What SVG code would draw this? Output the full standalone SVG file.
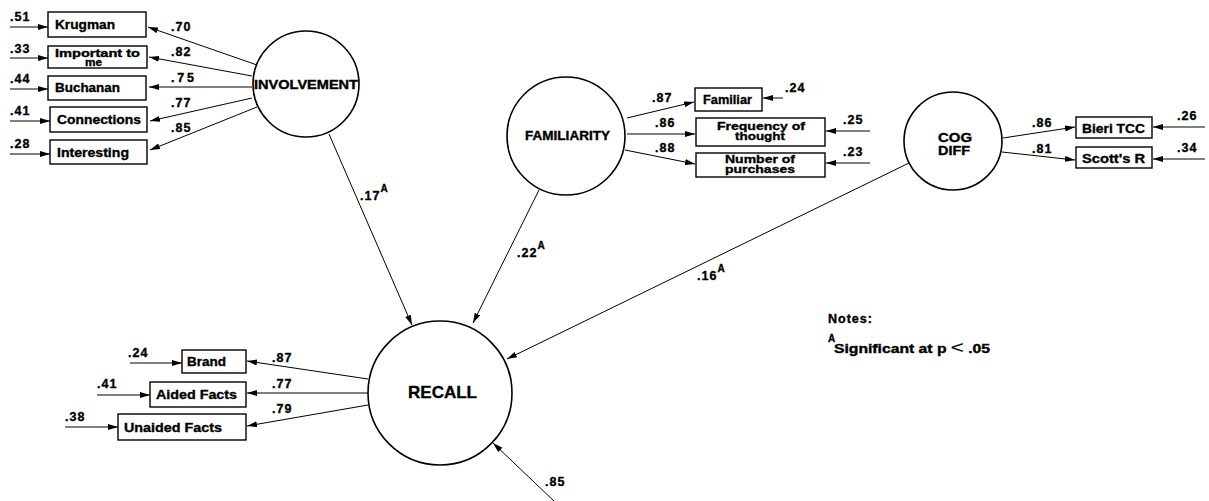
<svg xmlns="http://www.w3.org/2000/svg" width="1209" height="501" viewBox="0 0 1209 501">
  <defs>
    <marker id="ah" viewBox="0 0 10 6" refX="10" refY="3" markerWidth="10" markerHeight="6" orient="auto" markerUnits="userSpaceOnUse">
      <path d="M0,0 L10,3 L0,6 z" fill="#000"/>
    </marker>
    <style>
      text { font-family: "Liberation Sans", Arial, sans-serif; font-weight: bold; fill: #000; stroke: #000; stroke-width: 0.35px; }
      .lat { fill: #fff; stroke: #000; stroke-width: 1.6; }
      .box { fill: #fff; stroke: #000; stroke-width: 1.4; }
      .bl { font-size: 13px; }
      .nm { font-size: 12px; }
      .sm { font-size: 11.5px; }
      .xs { font-size: 10px; }
      .lb { font-size: 12.5px; letter-spacing: 1px; }
      .sup { font-size: 10px; letter-spacing: 0; }
      .c { stroke: #000; stroke-width: 1; fill: none; marker-end: url(#ah); }
    </style>
  </defs>
  <rect width="1209" height="501" fill="#fff"/>

  <!-- connectors -->
  <g id="connectors">
    <!-- involvement indicators -->
    <line class="c" x1="257" y1="65" x2="148" y2="27"/>
    <line class="c" x1="252" y1="76" x2="149" y2="57"/>
    <line class="c" x1="252" y1="87" x2="149" y2="87"/>
    <line class="c" x1="252" y1="98" x2="150" y2="121"/>
    <line class="c" x1="257" y1="107" x2="150" y2="150"/>
    <!-- involvement error terms -->
    <line class="c" x1="10" y1="27" x2="48" y2="27"/>
    <line class="c" x1="10" y1="58" x2="48" y2="58"/>
    <line class="c" x1="10" y1="89" x2="48" y2="89"/>
    <line class="c" x1="10" y1="121" x2="50" y2="121"/>
    <line class="c" x1="10" y1="154" x2="50" y2="154"/>
    <!-- familiarity indicators -->
    <line class="c" x1="627" y1="118" x2="694" y2="102"/>
    <line class="c" x1="627" y1="134" x2="695" y2="134"/>
    <line class="c" x1="625" y1="150" x2="695" y2="164"/>
    <line class="c" x1="783" y1="98" x2="763" y2="98"/>
    <line class="c" x1="870" y1="131" x2="826" y2="131"/>
    <line class="c" x1="870" y1="163" x2="826" y2="163"/>
    <!-- cog diff indicators -->
    <line class="c" x1="1003" y1="138" x2="1075" y2="127"/>
    <line class="c" x1="1002" y1="152" x2="1075" y2="160"/>
    <line class="c" x1="1205" y1="127" x2="1153" y2="127"/>
    <line class="c" x1="1205" y1="159" x2="1153" y2="159"/>
    <!-- structural paths -->
    <line class="c" x1="329" y1="134" x2="412" y2="325"/>
    <line class="c" x1="539" y1="190" x2="473" y2="323"/>
    <line class="c" x1="909" y1="163" x2="507" y2="359"/>
    <line class="c" x1="555" y1="502" x2="493" y2="443"/>
    <!-- recall indicators -->
    <line class="c" x1="368" y1="379" x2="247" y2="361"/>
    <line class="c" x1="368" y1="393" x2="247" y2="393"/>
    <line class="c" x1="368" y1="405" x2="247" y2="426"/>
    <line class="c" x1="130" y1="363" x2="182" y2="363"/>
    <line class="c" x1="97" y1="395" x2="150" y2="395"/>
    <line class="c" x1="65" y1="427" x2="118" y2="427"/>
  </g>

  <!-- path coefficients -->
  <g id="coefficients">
    <text class="lb" x="171" y="31">.70</text>
    <text class="lb" x="171" y="56">.82</text>
    <text class="lb" x="171" y="82" textLength="24">.75</text>
    <text class="lb" x="171" y="107">.77</text>
    <text class="lb" x="171" y="132">.85</text>
    <text class="lb" x="10" y="21">.51</text>
    <text class="lb" x="10" y="53">.33</text>
    <text class="lb" x="10" y="83">.44</text>
    <text class="lb" x="10" y="115">.41</text>
    <text class="lb" x="10" y="148">.28</text>

    <text class="lb" x="652" y="102">.87</text>
    <text class="lb" x="655" y="127">.86</text>
    <text class="lb" x="655" y="152">.88</text>
    <text class="lb" x="785" y="92">.24</text>
    <text class="lb" x="843" y="124">.25</text>
    <text class="lb" x="843" y="156">.23</text>

    <text class="lb" x="1032" y="127">.86</text>
    <text class="lb" x="1032" y="153">.81</text>
    <text class="lb" x="1177" y="120">.26</text>
    <text class="lb" x="1177" y="152">.34</text>

    <text class="lb" x="360" y="200">.17<tspan class="sup" dy="-8">A</tspan></text>
    <text class="lb" x="517" y="257">.22<tspan class="sup" dy="-8">A</tspan></text>
    <text class="lb" x="697" y="280">.16<tspan class="sup" dy="-8">A</tspan></text>
    <text class="lb" x="545" y="486">.85</text>

    <text class="lb" x="272" y="362">.87</text>
    <text class="lb" x="272" y="388">.77</text>
    <text class="lb" x="272" y="413">.79</text>
    <text class="lb" x="128" y="357">.24</text>
    <text class="lb" x="97" y="388">.41</text>
    <text class="lb" x="65" y="421">.38</text>
  </g>

  <!-- latent constructs -->
  <g id="involvement">
    <circle class="lat" cx="306" cy="84" r="53"/>
    <text class="nm" x="254" y="89" textLength="104" lengthAdjust="spacingAndGlyphs">INVOLVEMENT</text>
  </g>
  <g id="familiarity">
    <circle class="lat" cx="566" cy="136" r="59"/>
    <text class="nm" x="525" y="140" textLength="85" lengthAdjust="spacingAndGlyphs">FAMILIARITY</text>
  </g>
  <g id="cogdiff">
    <circle class="lat" cx="953" cy="141" r="49"/>
    <text class="nm" x="938" y="142" textLength="34" lengthAdjust="spacingAndGlyphs">COG</text>
    <text class="nm" x="938" y="155" textLength="32" lengthAdjust="spacingAndGlyphs">DIFF</text>
  </g>
  <g id="recall">
    <circle class="lat" cx="440" cy="393" r="72"/>
    <text x="408" y="398" style="font-size:17px" textLength="69" lengthAdjust="spacingAndGlyphs">RECALL</text>
  </g>

  <!-- involvement indicators -->
  <g id="krugman">
    <rect class="box" x="48" y="12" width="98" height="25"/>
    <text class="bl" x="55" y="29" textLength="60" lengthAdjust="spacingAndGlyphs">Krugman</text>
  </g>
  <g id="important">
    <rect class="box" x="48" y="46" width="99" height="22"/>
    <text class="xs" x="55" y="56.5" textLength="85" lengthAdjust="spacingAndGlyphs">Important to</text>
    <text class="xs" x="85" y="65.5" textLength="17" lengthAdjust="spacingAndGlyphs">me</text>
  </g>
  <g id="buchanan">
    <rect class="box" x="48" y="76" width="98" height="24"/>
    <text class="bl" x="55" y="92" textLength="65" lengthAdjust="spacingAndGlyphs">Buchanan</text>
  </g>
  <g id="connections">
    <rect class="box" x="50" y="107" width="97" height="25"/>
    <text class="bl" x="57" y="124" textLength="84" lengthAdjust="spacingAndGlyphs">Connections</text>
  </g>
  <g id="interesting">
    <rect class="box" x="50" y="140" width="97" height="24"/>
    <text class="bl" x="57" y="157" textLength="72" lengthAdjust="spacingAndGlyphs">Interesting</text>
  </g>

  <!-- familiarity indicators -->
  <g id="familiar">
    <rect class="box" x="695" y="88" width="67" height="23"/>
    <text class="bl" x="703" y="104" textLength="49" lengthAdjust="spacingAndGlyphs">Familiar</text>
  </g>
  <g id="frequency">
    <rect class="box" x="696" y="118" width="129" height="28"/>
    <text class="sm" x="717" y="130" textLength="88" lengthAdjust="spacingAndGlyphs">Frequency of</text>
    <text class="sm" x="735" y="140" textLength="50" lengthAdjust="spacingAndGlyphs">thought</text>
  </g>
  <g id="purchases">
    <rect class="box" x="696" y="153" width="129" height="24"/>
    <text class="sm" x="725" y="163" textLength="70" lengthAdjust="spacingAndGlyphs">Number of</text>
    <text class="sm" x="725" y="173" textLength="70" lengthAdjust="spacingAndGlyphs">purchases</text>
  </g>

  <!-- cog diff indicators -->
  <g id="bieri">
    <rect class="box" x="1076" y="117" width="76" height="21"/>
    <text class="bl" x="1082" y="133" textLength="63" lengthAdjust="spacingAndGlyphs">Bieri TCC</text>
  </g>
  <g id="scott">
    <rect class="box" x="1076" y="147" width="76" height="21"/>
    <text class="bl" x="1082" y="163" textLength="63" lengthAdjust="spacingAndGlyphs">Scott's R</text>
  </g>

  <!-- recall indicators -->
  <g id="brand">
    <rect class="box" x="182" y="350" width="64" height="23"/>
    <text class="bl" x="187" y="366" textLength="39" lengthAdjust="spacingAndGlyphs">Brand</text>
  </g>
  <g id="aided">
    <rect class="box" x="150" y="382" width="96" height="25"/>
    <text class="bl" x="156" y="399" textLength="81" lengthAdjust="spacingAndGlyphs">Aided Facts</text>
  </g>
  <g id="unaided">
    <rect class="box" x="118" y="414" width="128" height="26"/>
    <text class="bl" x="124" y="432" textLength="98" lengthAdjust="spacingAndGlyphs">Unaided Facts</text>
  </g>

  <!-- notes -->
  <g id="notes">
    <text class="lb" x="828" y="323">Notes:</text>
    <text class="sup" x="828" y="342">A</text>
    <text class="nm" x="834" y="353" textLength="156" lengthAdjust="spacingAndGlyphs">Significant at p <tspan style="font-size:17px;font-weight:normal;stroke-width:0.2px">&lt;</tspan> .05</text>
  </g>
</svg>
